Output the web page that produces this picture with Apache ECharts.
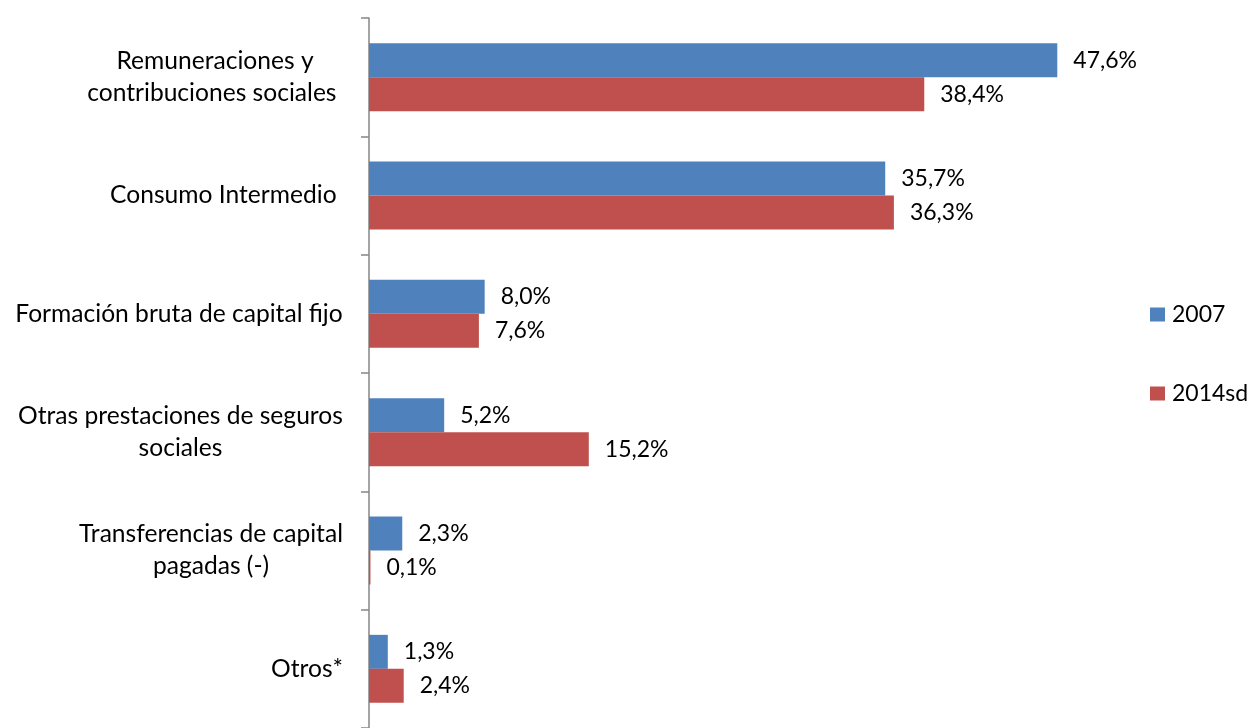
<!DOCTYPE html>
<html>
<head>
<meta charset="utf-8">
<script src="https://cdn.jsdelivr.net/npm/echarts@6/dist/echarts.min.js"></script>
<style>
    html, body { margin: 0; padding: 0; background: #fff; }
    #chart { width: 1251px; height: 728px; }
</style>
</head>
<body>
<div id="chart"></div>
<script>
    var categories = [
        'Remuneraciones y\ncontribuciones sociales ',
        'Consumo Intermedio ',
        'Formación bruta de capital fijo',
        'Otras prestaciones de seguros\nsociales',
        'Transferencias de capital\npagadas (-)',
        'Otros*'
    ];
    var seriesNames = ['2007', '2014sd'];
    var values2007 = [47.6, 35.7, 8.0, 5.2, 2.3, 1.3];
    var values2014 = [38.4, 36.3, 7.6, 15.2, 0.1, 2.4];

    var fontFamily = 'Lato, "Open Sans", sans-serif';
    var catFontSize = 24.6;
    var fontSize = 23;

    // ancho de cada etiqueta para centrar las lineas entre si
    var ctx = document.createElement('canvas').getContext('2d');
    ctx.font = catFontSize + 'px ' + fontFamily;
    var rich = {};
    for (var i = 0; i < categories.length; i++) {
        var lines = categories[i].split('\n');
        var w = 0;
        for (var j = 0; j < lines.length; j++) {
            w = Math.max(w, ctx.measureText(lines[j]).width);
        }
        rich['c' + i] = { width: Math.ceil(w), align: 'center', fontSize: catFontSize, fontFamily: fontFamily, color: '#000', lineHeight: 32 };
    }

    function pct(p) {
        return p.value.toFixed(1).replace('.', ',') + '%';
    }

    var chart = echarts.init(document.getElementById('chart'));
    var option = {
        animation: false,
        textStyle: { fontFamily: fontFamily },
        grid: { left: 369, top: 18, width: 723, height: 714 },
        legend: {
            orient: 'vertical',
            left: 1150,
            top: 303,
            padding: 0,
            itemWidth: 15,
            itemHeight: 14,
            itemGap: 56,
            icon: 'rect',
            textStyle: { fontSize: fontSize, color: '#000', padding: [0, 0, 0, 2] },
            data: seriesNames
        },
        xAxis: {
            type: 'value',
            min: 0,
            max: 50,
            show: false
        },
        yAxis: {
            type: 'category',
            inverse: true,
            data: categories,
            axisLine: { show: true, lineStyle: { color: '#868686', width: 1.5 } },
            axisTick: { show: true, length: 8, lineStyle: { color: '#868686', width: 1.5 } },
            axisLabel: {
                margin: 26,
                formatter: function (value, index) {
                    return value.split('\n').map(function (l) {
                        return '{c' + index + '|' + l + '}';
                    }).join('\n');
                },
                rich: rich
            }
        },
        series: [{
            name: seriesNames[0],
            type: 'bar',
            data: values2007,
            barWidth: 34,
            barGap: 0,
            itemStyle: { color: '#4F81BD' },
            label: { show: true, position: 'right', distance: 16, formatter: pct, fontSize: fontSize, color: '#000' }
        }, {
            name: seriesNames[1],
            type: 'bar',
            data: values2014,
            barWidth: 34,
            barGap: 0,
            itemStyle: { color: '#C0504D' },
            label: { show: true, position: 'right', distance: 16, formatter: pct, fontSize: fontSize, color: '#000' }
        }]
    };
    chart.setOption(option);
</script>
</body>
</html>
